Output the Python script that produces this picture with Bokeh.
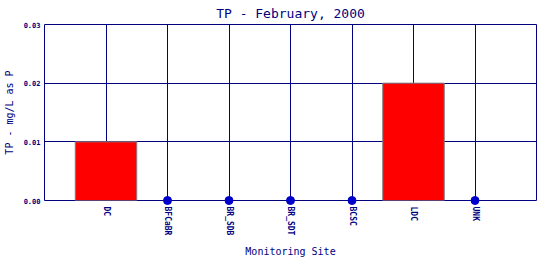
from bokeh.plotting import figure
from bokeh.models import Range1d, FixedTicker, ColumnDataSource
from bokeh.embed import file_html
from bokeh.resources import INLINE

sites = ["DC", "BFCaBR", "BR_SDB", "BR_SDT", "BCSC", "LDC", "UNK"]
tp_values = [0.01, 0.0, 0.0, 0.0, 0.0, 0.02, 0.0]
y_ticks = [0.0, 0.01, 0.02, 0.03]
title_text = "TP - February, 2000"
x_label = "Monitoring Site"
y_label = "TP - mg/L as P"

NAVY = "#000080"
FONT = "DejaVu Sans Mono"

xs = list(range(1, len(sites) + 1))
bar_src = ColumnDataSource(dict(x=[x for x, v in zip(xs, tp_values) if v > 0],
                                top=[v for v in tp_values if v > 0]))
dot_src = ColumnDataSource(dict(x=[x for x, v in zip(xs, tp_values) if v == 0],
                                y=[v for v in tp_values if v == 0]))

p = figure(width=540, height=260, output_backend="svg", toolbar_location=None,
           x_range=Range1d(0, len(sites) + 1), y_range=Range1d(0, 0.03),
           min_border_left=43, min_border_right=4, min_border_top=24, min_border_bottom=60)

p.title.text = title_text
p.title.align = "center"
p.title.text_font = FONT
p.title.text_font_size = "13px"
p.title.text_font_style = "normal"
p.title.text_color = NAVY
p.title.text_line_height = 1.0
p.title.standoff = 7

p.vbar(x="x", top="top", width=1.0, bottom=0, source=bar_src,
       fill_color="red", line_color="#808080", line_width=1)
p.scatter(x="x", y="y", source=dot_src, size=8, fill_color="#0000CC",
          line_color="#0000CC", level="overlay")

p.outline_line_color = NAVY
p.outline_line_width = 1
p.background_fill_color = "white"
p.border_fill_color = "white"

p.xaxis.ticker = FixedTicker(ticks=xs)
p.xaxis.major_label_overrides = {x: s for x, s in zip(xs, sites)}
p.xaxis.major_label_orientation = "vertical"
p.yaxis.ticker = FixedTicker(ticks=y_ticks)
p.yaxis.major_label_overrides = {t: f"{t:.2f}" for t in y_ticks}

for ax in (p.xaxis[0], p.yaxis[0]):
    ax.axis_line_color = None
    ax.major_tick_line_color = None
    ax.minor_tick_line_color = None
    ax.major_tick_out = 0
    ax.major_tick_in = 0
    ax.minor_tick_out = 0
    ax.major_label_text_font = FONT
    ax.major_label_text_font_style = "bold"
    ax.major_label_text_color = NAVY
    ax.axis_label_text_font = FONT
    ax.axis_label_text_font_size = "10px"
    ax.axis_label_text_font_style = "normal"
    ax.axis_label_text_color = NAVY

p.xaxis.major_label_text_font_size = "8px"
p.yaxis.major_label_text_font_size = "7px"
p.xaxis.axis_label = x_label
p.yaxis.axis_label = y_label
p.xaxis.major_label_standoff = 6
p.xaxis.axis_label_standoff = 8
p.yaxis.major_label_standoff = 4
p.yaxis.axis_label_standoff = 6

p.xgrid.ticker = FixedTicker(ticks=xs)
p.ygrid.ticker = FixedTicker(ticks=y_ticks)
for g in (p.xgrid[0], p.ygrid[0]):
    g.grid_line_color = NAVY
    g.grid_line_width = 1

open("out.html", "w").write(file_html(p, INLINE))
